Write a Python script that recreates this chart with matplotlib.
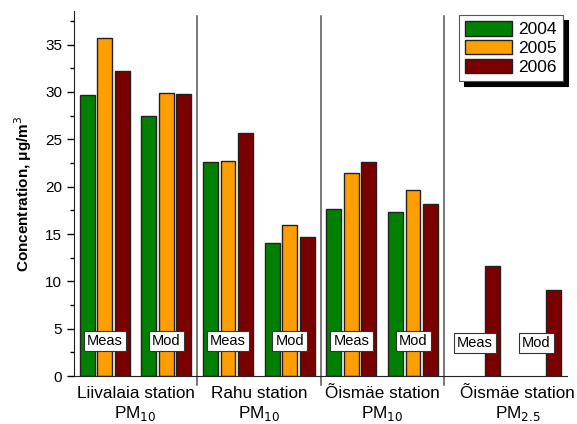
import numpy as np
import matplotlib.pyplot as plt
from matplotlib.ticker import MultipleLocator

plt.rcParams['font.family'] = ['Liberation Sans', 'DejaVu Sans']

stations = ["Liivalaia station\nPM$_{10}$", "Rahu station\nPM$_{10}$",
            "Õismäe station\nPM$_{10}$", "Õismäe station\nPM$_{2.5}$"]
years = ["2004", "2005", "2006"]
colors = ["#008000", "#FF9E00", "#7A0000"]

# [station][Meas/Mod][year]; None = no bar
values = [
    [[29.7, 35.7, 32.2], [27.5, 29.9, 29.8]],
    [[22.6, 22.7, 25.7], [14.1, 15.9, 14.7]],
    [[17.6, 21.4, 22.6], [17.3, 19.6, 18.2]],
    [[None, None, 11.6], [None, None, 9.1]],
]
kinds = ["Meas", "Mod"]

fig = plt.figure(figsize=(5.77, 4.24), dpi=100)
ax = fig.add_axes([0.128, 0.113, 0.855, 0.86])

width = 0.12
step = 0.142
for s, st in enumerate(values):
    for k, grp in enumerate(st):
        center = s + 0.25 + 0.5 * k
        for y, v in enumerate(grp):
            if v is None:
                continue
            ax.bar(center + (y - 1) * step, v, width, color=colors[y],
                   edgecolor="#222222", linewidth=1.0,
                   label=years[y] if (s == 0 and k == 0) else None)
        ax.text(center, 3.7 if s < 3 else 3.5, kinds[k], ha="center", va="center",
                fontsize=10.5,
                bbox=dict(boxstyle="square,pad=0.22", fc="white", ec="#333333", lw=0.8),
                zorder=5)

for xs in [1, 2, 3]:
    ax.plot([xs, xs], [-0.9, 38.0], color="#555555", lw=1.1, clip_on=False)

ax.set_xlim(0, 4)
ax.set_ylim(0, 38.5)
ax.set_xticks([0.5, 1.5, 2.5, 3.6])
ax.set_xticklabels(stations, fontsize=12.3, linespacing=1.2)
ax.tick_params(axis="x", length=0, pad=7)
ax.yaxis.set_major_locator(MultipleLocator(5))
ax.yaxis.set_minor_locator(MultipleLocator(2.5))
ax.tick_params(axis="y", which="major", length=5, width=1, labelsize=11)
ax.tick_params(axis="y", which="minor", length=3, width=1)
for sp in ["top", "right"]:
    ax.spines[sp].set_visible(False)
ax.spines["left"].set_color("#222222")
ax.spines["bottom"].set_color("#222222")
ax.set_ylabel("Concentration, μg/m$^3$", fontsize=11, fontweight="bold", labelpad=8)

leg = ax.legend(loc="upper right", bbox_to_anchor=(0.992, 0.99), borderaxespad=0,
                fontsize=12.5, fancybox=False, edgecolor="#555555", framealpha=1,
                handlelength=2.7, handleheight=0.9, handletextpad=0.4,
                labelspacing=0.15, borderpad=0.35,
                shadow={"color": "black", "alpha": 1, "ox": 3.5, "oy": -3.5})
leg.get_frame().set_linewidth(0.8)

fig.savefig("out.png", dpi=100)
